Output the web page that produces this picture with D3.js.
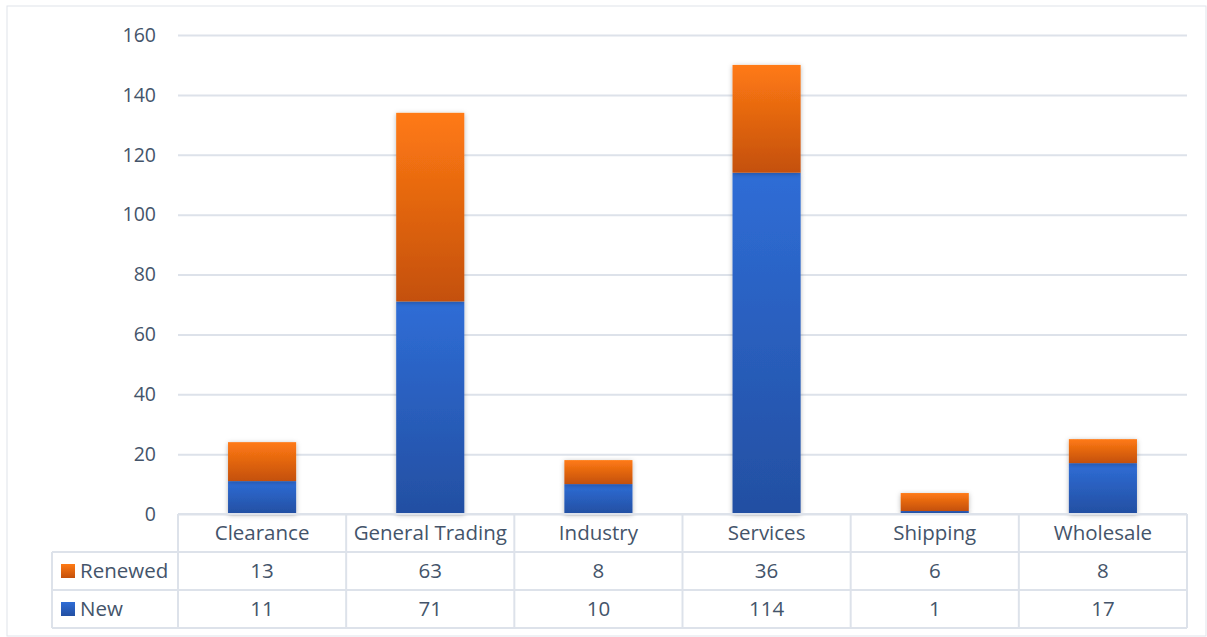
<!DOCTYPE html>
<html>
<head>
<meta charset="utf-8">
<script src="https://cdn.jsdelivr.net/npm/d3@7"></script>
<style>
  html, body { margin: 0; padding: 0; background: #fff; }
  svg { display: block; font-family: "Open Sans", "Lato", sans-serif; }
</style>
</head>
<body>
<svg id="chart" width="1207" height="637"></svg>
<script>
// Licence counts by sector
const categories = ["Clearance", "General Trading", "Industry", "Services", "Shipping", "Wholesale"];
const newValues = [11, 71, 10, 114, 1, 17];
const renewedValues = [13, 63, 8, 36, 6, 8];
const yTicks = [0, 20, 40, 60, 80, 100, 120, 140, 160];

const seriesList = [
  { key: "New", values: newValues, grad: "gradBlue" },
  { key: "Renewed", values: renewedValues, grad: "gradOrange" }
];

const svg = d3.select("#chart");
const textColor = "#44546a";
const gridColor = "#dde2ea";
const tickFont = 19.5;
const tableFont = 20.5;

const plot = { left: 178, right: 1187, top: 35, bottom: 514 };
const rowH = 38;
const tableLeft = 52;

// Gradient fills and drop shadow
const defs = svg.append("defs");
function addGrad(id, top, bottom) {
  const g = defs.append("linearGradient").attr("id", id)
    .attr("x1", 0).attr("y1", 0).attr("x2", 0).attr("y2", 1);
  g.append("stop").attr("offset", "0%").attr("stop-color", top);
  g.append("stop").attr("offset", "100%").attr("stop-color", bottom);
}
addGrad("gradBlue", "#2f6dd6", "#234fa2");
addGrad("gradOrange", "#ff7a14", "#c4500b");
const f = defs.append("filter").attr("id", "shadow")
  .attr("x", "-20%").attr("y", "-20%").attr("width", "140%").attr("height", "140%");
f.append("feDropShadow").attr("dx", 0).attr("dy", 1).attr("stdDeviation", 2.5)
  .attr("flood-color", "#000").attr("flood-opacity", 0.28);

// Outer frame
svg.append("rect").attr("x", 7).attr("y", 6).attr("width", 1199).attr("height", 630)
  .attr("fill", "#fff").attr("stroke", "#dfe3ea").attr("stroke-width", 1);

const x = d3.scaleBand().domain(categories).range([plot.left, plot.right]).paddingInner(0).paddingOuter(0);
const y = d3.scaleLinear().domain([0, 160]).range([plot.bottom, plot.top]);

// Gridlines and y labels
const yAxis = d3.axisLeft(y).tickValues(yTicks).tickSize(-(plot.right - plot.left)).tickPadding(22);
const ga = svg.append("g").attr("transform", `translate(${plot.left},0)`).call(yAxis);
ga.select(".domain").remove();
ga.selectAll(".tick line").attr("stroke", gridColor).attr("stroke-width", 2);
ga.selectAll(".tick text").attr("fill", textColor).attr("font-size", tickFont)
  .attr("font-family", "'Open Sans', Lato, sans-serif");

// Stacked bars
const stackData = categories.map((c, i) => ({ cat: c, New: newValues[i], Renewed: renewedValues[i] }));
const stacked = d3.stack().keys(["New", "Renewed"])(stackData);
const barW = x.bandwidth() * 0.405;

stacked.forEach((layer, li) => {
  svg.append("g").selectAll("rect").data(layer).join("rect")
    .attr("x", d => x(d.data.cat) + (x.bandwidth() - barW) / 2)
    .attr("y", d => y(d[1]))
    .attr("width", barW)
    .attr("height", d => y(d[0]) - y(d[1]))
    .attr("fill", `url(#${seriesList[li].grad})`)
    .attr("filter", "url(#shadow)");
});

// Data table below the plot
const tbl = svg.append("g");
const rowsY = [plot.bottom, plot.bottom + rowH, plot.bottom + 2 * rowH, plot.bottom + 3 * rowH];
const lineAttrs = sel => sel.attr("stroke", gridColor).attr("stroke-width", 2);

// horizontal lines
tbl.append("line").attr("x1", plot.left).attr("x2", plot.right).attr("y1", rowsY[0]).attr("y2", rowsY[0]).call(lineAttrs);
[1, 2, 3].forEach(r => {
  tbl.append("line").attr("x1", tableLeft).attr("x2", plot.right).attr("y1", rowsY[r]).attr("y2", rowsY[r]).call(lineAttrs);
});
// vertical lines
tbl.append("line").attr("x1", tableLeft).attr("x2", tableLeft).attr("y1", rowsY[1]).attr("y2", rowsY[3]).call(lineAttrs);
categories.forEach(c => {
  tbl.append("line").attr("x1", x(c)).attr("x2", x(c)).attr("y1", rowsY[0]).attr("y2", rowsY[3]).call(lineAttrs);
});
tbl.append("line").attr("x1", plot.right).attr("x2", plot.right).attr("y1", rowsY[0]).attr("y2", rowsY[3]).call(lineAttrs);

// category header
tbl.selectAll("text.cat").data(categories).join("text").attr("class", "cat")
  .attr("x", d => x(d) + x.bandwidth() / 2).attr("y", rowsY[0] + rowH / 2)
  .attr("dy", "0.35em").attr("text-anchor", "middle")
  .attr("fill", textColor).attr("font-size", tableFont).text(d => d);

// series rows: Renewed then New
const rows = [seriesList[1], seriesList[0]];
rows.forEach((s, ri) => {
  const cy = rowsY[ri + 1] + rowH / 2;
  tbl.append("rect").attr("x", 61).attr("y", cy - 7).attr("width", 14).attr("height", 14)
    .attr("fill", `url(#${s.grad})`);
  tbl.append("text").attr("x", 80).attr("y", cy).attr("dy", "0.35em")
    .attr("fill", textColor).attr("font-size", tableFont).text(s.key);
  tbl.selectAll(null).data(s.values).join("text")
    .attr("x", (d, i) => x(categories[i]) + x.bandwidth() / 2).attr("y", cy)
    .attr("dy", "0.35em").attr("text-anchor", "middle")
    .attr("fill", textColor).attr("font-size", tableFont).text(d => d);
});
</script>
</body>
</html>
